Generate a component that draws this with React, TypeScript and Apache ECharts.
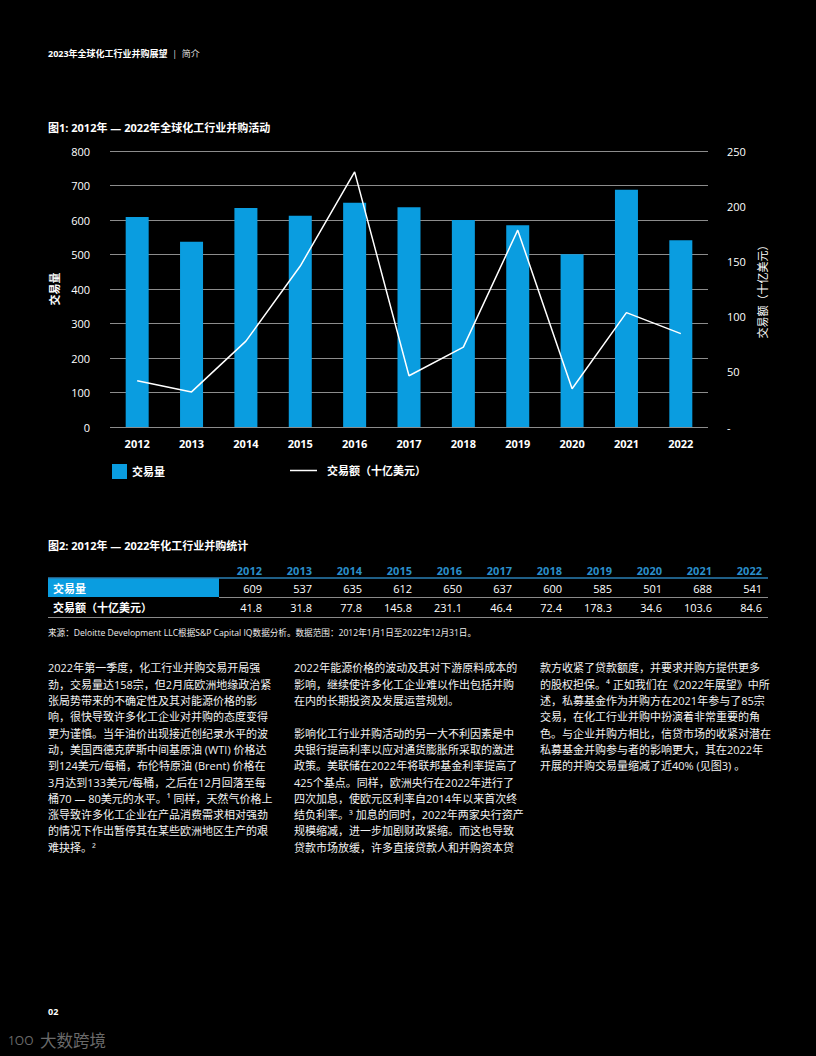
import React, { useEffect, useRef } from 'react';
import * as echarts from 'echarts';

const years = ['2012', '2013', '2014', '2015', '2016', '2017', '2018', '2019', '2020', '2021', '2022'];
const dealCount = [609, 537, 635, 612, 650, 637, 600, 585, 501, 688, 541];
const dealValue = [41.8, 31.8, 77.8, 145.8, 231.1, 46.4, 72.4, 178.3, 34.6, 103.6, 84.6];

const countName = '交易量';
const valueName = '交易额（十亿美元）';

const headerTitle = '2023年全球化工行业并购展望';
const headerSection = '简介';
const fig1Title = '图1: 2012年 — 2022年全球化工行业并购活动';
const fig2Title = '图2: 2012年 — 2022年化工行业并购统计';
const sourceText = '来源：Deloitte Development LLC根据S&P Capital IQ数据分析。数据范围：2012年1月1日至2022年12月31日。';

const col1Lines = [
  '2022年第一季度，化工行业并购交易开局强',
  '劲，交易量达158宗，但2月底欧洲地缘政治紧',
  '张局势带来的不确定性及其对能源价格的影',
  '响，很快导致许多化工企业对并购的态度变得',
  '更为谨慎。当年油价出现接近创纪录水平的波',
  '动，美国西德克萨斯中间基原油 (WTI) 价格达',
  '到124美元/每桶，布伦特原油 (Brent) 价格在',
  '3月达到133美元/每桶，之后在12月回落至每',
  '桶70 — 80美元的水平。¹ 同样，天然气价格上',
  '涨导致许多化工企业在产品消费需求相对强劲',
  '的情况下作出暂停其在某些欧洲地区生产的艰',
  '难抉择。²',
];
const col2Lines = [
  '2022年能源价格的波动及其对下游原料成本的',
  '影响，继续使许多化工企业难以作出包括并购',
  '在内的长期投资及发展运营规划。',
  '',
  '影响化工行业并购活动的另一大不利因素是中',
  '央银行提高利率以应对通货膨胀所采取的激进',
  '政策。美联储在2022年将联邦基金利率提高了',
  '425个基点。同样，欧洲央行在2022年进行了',
  '四次加息，使欧元区利率自2014年以来首次终',
  '结负利率。³ 加息的同时，2022年两家央行资产',
  '规模缩减，进一步加剧财政紧缩。而这也导致',
  '贷款市场放缓，许多直接贷款人和并购资本贷',
];
const col3Lines = [
  '款方收紧了贷款额度，并要求并购方提供更多',
  '的股权担保。⁴ 正如我们在《2022年展望》中所',
  '述，私募基金作为并购方在2021年参与了85宗',
  '交易，在化工行业并购中扮演着非常重要的角',
  '色。与企业并购方相比，信贷市场的收紧对潜在',
  '私募基金并购参与者的影响更大，其在2022年',
  '开展的并购交易量缩减了近40% (见图3) 。',
];

const FF = "'Open Sans', 'Noto Sans CJK SC', sans-serif";
const BLUE = '#0a9de0';
const TBLUE = '#2a8fcb';

export default function App() {
  const ref = useRef<HTMLDivElement>(null);

  useEffect(() => {
    if (!ref.current) return;
    const chart = echarts.init(ref.current, null, { renderer: 'svg' });

    const txt = (x: number, y: number, text: string, o: any = {}) => ({
      type: 'text',
      x,
      y,
      silent: true,
      style: {
        text,
        fill: o.fill || '#fff',
        fontSize: o.fontSize || 11,
        fontWeight: o.fontWeight || 'normal',
        fontFamily: FF,
        align: o.align || 'left',
        verticalAlign: o.verticalAlign || 'middle',
        lineHeight: o.lineHeight,
      },
    });

    const graphics: any[] = [];
    graphics.push({
      type: 'text',
      x: 48,
      y: 53,
      silent: true,
      style: {
        text: `{b|${headerTitle}}{n|  |  ${headerSection}}`,
        verticalAlign: 'middle',
        fontFamily: FF,
        rich: {
          b: { fill: '#fff', fontSize: 9, fontWeight: 'bold', fontFamily: FF },
          n: { fill: '#ddd', fontSize: 9, fontFamily: FF },
        },
      },
    });
    graphics.push(txt(48, 127, fig1Title, { fontWeight: 'bold', fontSize: 11 }));
    graphics.push(txt(48, 545, fig2Title, { fontWeight: 'bold', fontSize: 11 }));

    // table
    const colRight = (i: number) => 262 + 50 * i;
    graphics.push({
      type: 'rect',
      silent: true,
      shape: { x: 48, y: 578, width: 171, height: 19 },
      style: { fill: BLUE },
    });
    graphics.push({
      type: 'line',
      silent: true,
      shape: { x1: 48, y1: 578, x2: 768, y2: 578 },
      style: { stroke: '#2a7fb5', lineWidth: 1.5 },
    });
    graphics.push({
      type: 'line',
      silent: true,
      shape: { x1: 219, y1: 597.5, x2: 768, y2: 597.5 },
      style: { stroke: '#8a8a8a', lineWidth: 1 },
    });
    graphics.push({
      type: 'line',
      silent: true,
      shape: { x1: 48, y1: 617.5, x2: 768, y2: 617.5 },
      style: { stroke: '#8a8a8a', lineWidth: 1 },
    });
    graphics.push(txt(53, 588, countName, { fontWeight: 'bold', fontSize: 11 }));
    graphics.push(txt(53, 607, valueName, { fontWeight: 'bold', fontSize: 11 }));
    years.forEach((y, i) => {
      graphics.push(txt(colRight(i), 570, y, { fontWeight: 'bold', fontSize: 11, fill: TBLUE, align: 'right' }));
      graphics.push(txt(colRight(i), 588, String(dealCount[i]), { fontSize: 11, align: 'right' }));
      graphics.push(txt(colRight(i), 607, dealValue[i].toFixed(1), { fontSize: 11, align: 'right' }));
    });
    graphics.push(txt(48, 633, sourceText, { fontSize: 8.6, fill: '#eee' }));

    // paragraphs
    const para = (x: number, lines: string[]) =>
      txt(x, 668 - 8.15, lines.join('\n'), { fontSize: 11, lineHeight: 16.3, verticalAlign: 'top', fill: '#f2f2f2' });
    graphics.push(para(48, col1Lines));
    graphics.push(para(294, col2Lines));
    graphics.push(para(540, col3Lines));

    graphics.push(txt(48, 1011, '02', { fontSize: 9, fontWeight: 'bold' }));
    graphics.push(txt(8, 1040, '1OO', { fontSize: 12, fill: '#6a6a6a' }));
    graphics.push(txt(40, 1040, '大数跨境', { fontSize: 16.5, fill: '#6a6a6a' }));

    const option: any = {
      animation: false,
      backgroundColor: '#000',
      textStyle: { fontFamily: FF },
      grid: { left: 110, right: 108, top: 151, bottom: 629, containLabel: false },
      legend: [
        {
          left: 107,
          top: 459,
          itemWidth: 15,
          itemHeight: 15,
          icon: 'rect',
          selectedMode: false,
          data: [countName],
          textStyle: { color: '#fff', fontWeight: 'bold', fontSize: 11, fontFamily: FF },
        },
        {
          left: 285,
          top: 460,
          itemWidth: 27,
          itemHeight: 1.5,
          icon: 'rect',
          selectedMode: false,
          data: [valueName],
          textStyle: { color: '#fff', fontWeight: 'bold', fontSize: 11, fontFamily: FF, padding: [0, 0, 0, 5] },
        },
      ],
      xAxis: {
        type: 'category',
        data: years,
        boundaryGap: true,
        axisLine: { show: false },
        axisTick: { show: false },
        axisLabel: { color: '#fff', fontSize: 11, fontWeight: 'bold', margin: 11, fontFamily: FF },
      },
      yAxis: [
        {
          type: 'value',
          min: 0,
          max: 800,
          interval: 100,
          name: countName,
          nameLocation: 'middle',
          nameRotate: 90,
          nameGap: 50,
          nameTextStyle: { color: '#fff', fontWeight: 'bold', fontSize: 11, fontFamily: FF },
          axisLine: { show: false },
          axisTick: { show: false },
          axisLabel: { color: '#fff', fontSize: 11, margin: 20, fontFamily: FF },
          splitLine: { show: true, lineStyle: { color: '#8c8c8c', width: 1 } },
        },
        {
          type: 'value',
          min: 0,
          max: 250,
          interval: 50,
          name: valueName,
          nameLocation: 'middle',
          nameRotate: 90,
          nameGap: 48,
          nameTextStyle: { color: '#fff', fontSize: 11, fontFamily: FF },
          axisLine: { show: false },
          axisTick: { show: false },
          axisLabel: {
            color: '#fff',
            fontSize: 11,
            margin: 19,
            fontFamily: FF,
            formatter: (v: number) => (v === 0 ? '-' : String(v)),
          },
          splitLine: { show: false },
        },
      ],
      series: [
        {
          name: countName,
          type: 'bar',
          data: dealCount,
          barWidth: 23,
          itemStyle: { color: BLUE },
          yAxisIndex: 0,
        },
        {
          name: valueName,
          type: 'line',
          data: dealValue,
          yAxisIndex: 1,
          symbol: 'none',
          lineStyle: { color: '#fff', width: 1.5 },
          itemStyle: { color: '#fff' },
          z: 5,
        },
      ],
      graphic: graphics,
    };
    chart.setOption(option);
    return () => chart.dispose();
  }, []);

  return (
    <div
      ref={ref}
      style={{ position: 'absolute', left: 0, top: 0, width: 816, height: 1056, background: '#000' }}
    />
  );
}
